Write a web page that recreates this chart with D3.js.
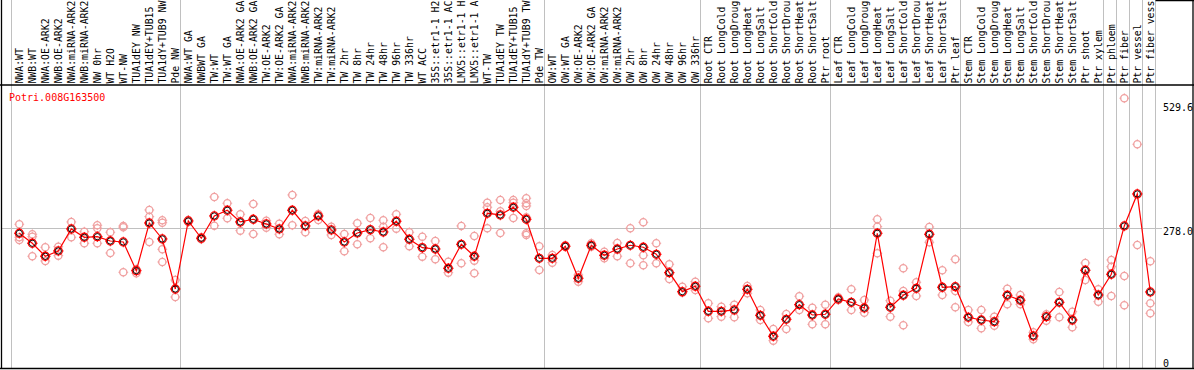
<!DOCTYPE html>
<html>
<head>
<meta charset="utf-8">
<script src="https://cdn.jsdelivr.net/npm/d3@7"></script>
<style>
  html, body { margin: 0; padding: 0; background: #fff; }
  svg { display: block; }
  text { font-family: "DejaVu Sans Mono", monospace; font-size: 10px; }
  text.lab { font-size: 9.85px; }
</style>
</head>
<body>
<svg id="chart" width="1194" height="370"></svg>
<script>
const geneTitle = "Potri.008G163500";

const labels = [
  "NWA:WT", "NWB:WT", "NWA:OE-ARK2", "NWB:OE-ARK2", "NWA:miRNA-ARK2", "NWB:miRNA-ARK2",
  "NW 0hr", "WT H2O", "WT-NW", "TUA1dEY NW", "TUA1dEY+TUB15", "TUA1dY+TUB9 NW", "Pde NW",
  "NWA:WT GA", "NWBWT GA", "TW:WT", "TW:WT GA", "NWA:OE-ARK2 GA", "NWB:OE-ARK2 GA",
  "TW:OE-ARK2", "TW:OE-ARK2 GA", "NWA:miRNA-ARK2", "NWB:miRNA-ARK2", "TW:miRNA-ARK2",
  "TW:miRNA-ARK2", "TW 2hr", "TW 8hr", "TW 24hr", "TW 48hr", "TW 96hr", "TW 336hr",
  "WT ACC", "35S::etr1-1 H2", "35S::etr1-1 AC", "LMX5::etr1-1 H", "LMX5::etr1-1 A",
  "WT-TW", "TUA1dEY TW", "TUA1dEY+TUB15", "TUA1dY+TUB9 TW", "Pde TW",
  "OW:WT", "OW:WT GA", "OW:OE-ARK2", "OW:OE-ARK2 GA", "OW:miRNA-ARK2", "OW:miRNA-ARK2",
  "OW 2hr", "OW 8hr", "OW 24hr", "OW 48hr", "OW 96hr", "OW 336hr",
  "Root CTR", "Root LongCold", "Root LongDroug", "Root LongHeat", "Root LongSalt",
  "Root ShortCold", "Root ShortDrou", "Root ShortHeat", "Root ShortSalt", "Ptr root",
  "Leaf CTR", "Leaf LongCold", "Leaf LongDroug", "Leaf LongHeat", "Leaf LongSalt",
  "Leaf ShortCold", "Leaf ShortDrou", "Leaf ShortHeat", "Leaf ShortSalt", "Ptr leaf",
  "Stem CTR", "Stem LongCold", "Stem LongDroug", "Stem LongHeat", "Stem LongSalt",
  "Stem ShortCold", "Stem ShortDrou", "Stem ShortHeat", "Stem ShortSalt", "Ptr shoot",
  "Ptr xylem", "Ptr phloem", "Ptr fiber", "Ptr vessel", "Ptr fiber vess"
];

const meanValues = [
  266.8, 246.6, 220.3, 231.0, 275.5, 258.7, 259.9, 251.2, 249.2, 191.1, 287.6, 255.3, 154.1,
  291.7, 256.7, 301.8, 313.3, 289.7, 295.1, 285.6, 275.5, 313.3, 281.6, 301.8, 273.5,
  249.2, 267.4, 274.1, 269.4, 291.1, 254.7, 237.7, 235.0, 196.0, 244.5, 220.3,
  307.2, 303.8, 319.4, 295.1, 216.2,
  216.2, 240.5, 175.8, 242.5, 222.3, 235.0, 242.5, 238.5, 224.3, 187.1, 148.7, 159.6,
  109.0, 109.0, 111.7, 153.5, 100.9, 58.5, 92.8, 122.4, 101.5, 103.0,
  133.9, 127.2, 115.7, 266.8, 117.1, 141.4, 155.5, 264.8, 157.6, 158.8,
  96.9, 91.4, 88.0, 141.4, 131.3, 59.1, 98.1, 127.2, 91.4, 192.0, 142.0,
  183.9, 281.6, 346.3, 148.1
];

const replicateValues = [
  [285.0, 258.7, 253.2], [264.8, 259.9, 220.3], [238.5, 210.8, 220.3], [239.7, 221.5],
  [289.7, 258.7], [270.0, 246.6], [283.0, 276.9, 246.6], [268.8, 226.9],
  [281.6, 278.9, 187.9], [194.0, 185.9], [313.9, 300.4, 249.2],
  [293.1, 288.2, 234.4, 208.7], [172.3, 137.9],
  [293.7, 289.7], [258.7, 254.7], [340.2, 282.2], [327.5, 297.1], [305.2, 272.1],
  [326.1, 265.4], [292.3, 278.1], [286.2, 264.8], [344.3, 283.0], [291.7, 268.8],
  [305.8, 293.7], [280.1, 263.4], [265.4, 230.4], [287.0, 244.5], [297.7, 256.7],
  [293.1, 280.1, 238.5], [305.2, 276.1], [268.8, 240.5], [259.9, 219.5],
  [251.2, 214.2], [209.3, 187.1], [281.6, 206.1], [261.3, 211.4, 185.9],
  [328.7, 319.4, 276.9], [334.2, 311.3, 267.4], [334.2, 328.7, 297.7],
  [337.6, 327.5, 322.0, 299.2, 266.8, 263.4], [240.5, 192.6],
  [222.9, 207.3], [242.5, 239.7], [182.4, 168.9], [246.6, 239.7], [229.6, 216.2],
  [247.2, 220.3], [276.9, 206.1], [289.0, 222.3, 202.1], [246.6, 206.1],
  [204.1, 174.4], [158.8, 146.6], [168.9, 152.1],
  [125.2, 94.9], [118.3, 98.1], [122.4, 96.9], [160.2, 145.4], [111.7, 91.4],
  [73.2, 49.6], [103.6, 73.2], [139.4, 111.7], [116.3, 82.7], [122.4, 82.7],
  [137.3, 131.9], [153.5, 111.7], [131.9, 106.2], [295.1, 280.1, 226.3],
  [130.5, 98.1], [196.0, 150.1, 80.7], [167.7, 140.0], [279.5, 248.6],
  [192.0, 142.0], [214.2, 150.1, 117.1],
  [111.7, 87.4], [111.7, 74.6], [98.1, 79.9], [154.7, 123.2], [142.0, 123.2],
  [66.5, 52.4], [103.0, 90.0], [148.1, 96.9], [108.2, 76.7], [206.7, 172.3],
  [153.5, 128.4],
  [212.8, 199.2, 140.0], [539.9, 180.4, 121.2], [446.8, 243.1], [210.2, 125.2, 105.0]
];

// index of the last sample in each group (separator lines)
const groupEnds = [12, 40, 52, 62, 72, 83, 84, 85, 86, 87];
const yTickValues = [529.6, 278.0, 0];
const gridValues = [278.0];

const svg = d3.select("#chart");
const W = 1194, H = 370;
const headerY = 85, bottomY = 368.5, plotRight = 1155.5;

const x = d3.scaleBand().domain(d3.range(labels.length)).range([12.8, 12.8 + labels.length * 13]).padding(0);
const cx = i => x(i) + x.bandwidth() / 2;
const y = d3.scaleLinear().domain([0, 529.6]).range([365.2, 103.3]);

// horizontal grid
svg.selectAll("line.grid").data(gridValues).join("line")
  .attr("x1", 1).attr("x2", 1162)
  .attr("y1", d => Math.round(y(d)) + 0.5).attr("y2", d => Math.round(y(d)) + 0.5)
  .attr("stroke", "#c0c0c0").attr("stroke-width", 1);

// vertical separators
const seps = [cx(0) - 8.5].concat(groupEnds.map(i => cx(i) + 5));
svg.selectAll("line.sep").data(seps).join("line")
  .attr("x1", d => Math.round(d) + 0.5).attr("x2", d => Math.round(d) + 0.5)
  .attr("y1", 0).attr("y2", bottomY)
  .attr("stroke", "#c0c0c0").attr("stroke-width", 1);

// frame
const frame = svg.append("g").attr("stroke", "#000").attr("stroke-width", 1.3);
frame.append("line").attr("x1", 0).attr("x2", W).attr("y1", headerY).attr("y2", headerY);
frame.append("line").attr("x1", 0).attr("x2", W).attr("y1", bottomY).attr("y2", bottomY);
frame.append("line").attr("x1", 1.5).attr("x2", 1.5).attr("y1", 0).attr("y2", bottomY);
frame.append("line").attr("x1", 1193).attr("x2", 1193).attr("y1", 0).attr("y2", bottomY);
frame.append("line").attr("x1", plotRight).attr("x2", W).attr("y1", 0.5).attr("y2", 0.5);

// column labels (rotated)
svg.selectAll("text.lab").data(labels).join("text")
  .attr("class", "lab")
  .attr("transform", (d, i) => `translate(${cx(i) + 3.6},83.6) rotate(-90)`)
  .attr("fill", "#000")
  .text(d => d);

// title
svg.append("text").attr("x", 9).attr("y", 101).attr("fill", "#ff0000").text(geneTitle);

// y tick labels
svg.selectAll("text.ytick").data(yTickValues).join("text")
  .attr("x", 1163)
  .attr("y", d => Math.min(y(d) + 7.5, 366.5))
  .attr("fill", "#000")
  .text(d => d === 0 ? "0" : d.toFixed(1));

// marker with small crosshair ticks
function marker(g, px, py, r, color, sw) {
  g.append("circle").attr("cx", px).attr("cy", py).attr("r", r)
    .attr("fill", "none").attr("stroke", color).attr("stroke-width", sw);
  const t = [[0, -1], [0, 1], [-1, 0], [1, 0]];
  t.forEach(([dx, dy]) => {
    g.append("line")
      .attr("x1", px + dx * (r - 0.5)).attr("y1", py + dy * (r - 0.5))
      .attr("x2", px + dx * (r + 1.3)).attr("y2", py + dy * (r + 1.3))
      .attr("stroke", color).attr("stroke-width", 1);
  });
}

// replicates
const repG = svg.append("g");
replicateValues.forEach((vals, i) => {
  vals.forEach(v => marker(repG, cx(i), y(v), 3.6, "#f0a0a0", 1.3));
});

// mean line
const line = d3.line().x((d, i) => cx(i)).y(d => y(d));
svg.append("path").datum(meanValues).attr("d", line)
  .attr("fill", "none").attr("stroke", "#ff0000").attr("stroke-width", 1.2);

// mean markers
const meanG = svg.append("g");
meanValues.forEach((v, i) => {
  marker(meanG, cx(i), y(v), 4, "#ff0000", 1.3);
  meanG.append("circle").attr("cx", cx(i)).attr("cy", y(v)).attr("r", 3.1)
    .attr("fill", "none").attr("stroke", "#000").attr("stroke-width", 0.9);
});
</script>
</body>
</html>
